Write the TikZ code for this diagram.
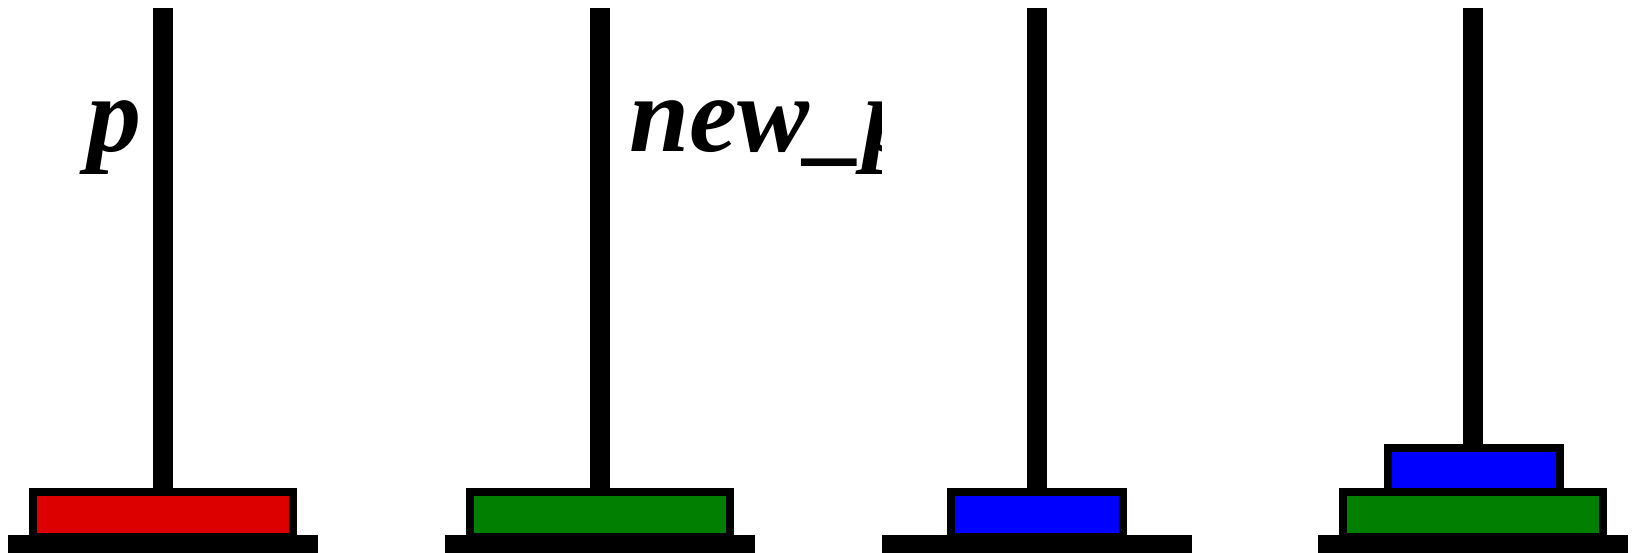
\documentclass[tikz,border=0pt]{standalone}
\usepackage{fontspec}
\setmainfont{Liberation Serif}
\newfontfamily\lblfont{Liberation Serif}[UprightFont={* Bold Italic}]
\definecolor{dred}{HTML}{DD0000}
\definecolor{dgreen}{HTML}{007F00}
\definecolor{dblue}{HTML}{0000FF}
\begin{document}
\begin{tikzpicture}[x=1pt,y=-1pt,
  disk/.style={draw=black,line width=8pt},
  peg/.style={fill=black},
  lbl/.style={anchor=base west,inner sep=0pt,font=\fontsize{108}{120}\selectfont\lblfont}]
\useasboundingbox (0,0) rectangle (1633,553);
% pegs
\foreach \c in {163,600,1036.5,1473}{
  \fill[peg] (\c-10,8) rectangle (\c+10,492);
}
% disks
\filldraw[disk,fill=dred] (33,492) rectangle (293,537);
\filldraw[disk,fill=dgreen] (470,492) rectangle (730,537);
\filldraw[disk,fill=dblue] (951,492) rectangle (1123,537);
\filldraw[disk,fill=dgreen] (1343,492) rectangle (1603,537);
\filldraw[disk,fill=dblue] (1388,448) rectangle (1560,492);
% bases
\foreach \c in {163,600,1036.5,1473}{
  \fill[peg] (\c-155,535) rectangle (\c+155,560);
}
% labels
\node[lbl] (p) at (87,152) {p};
\begin{scope}
\clip (600,0) rectangle (881,553);
\node[lbl] (newp) at (629,152) {new\_p};
\end{scope}
\end{tikzpicture}
\end{document}
